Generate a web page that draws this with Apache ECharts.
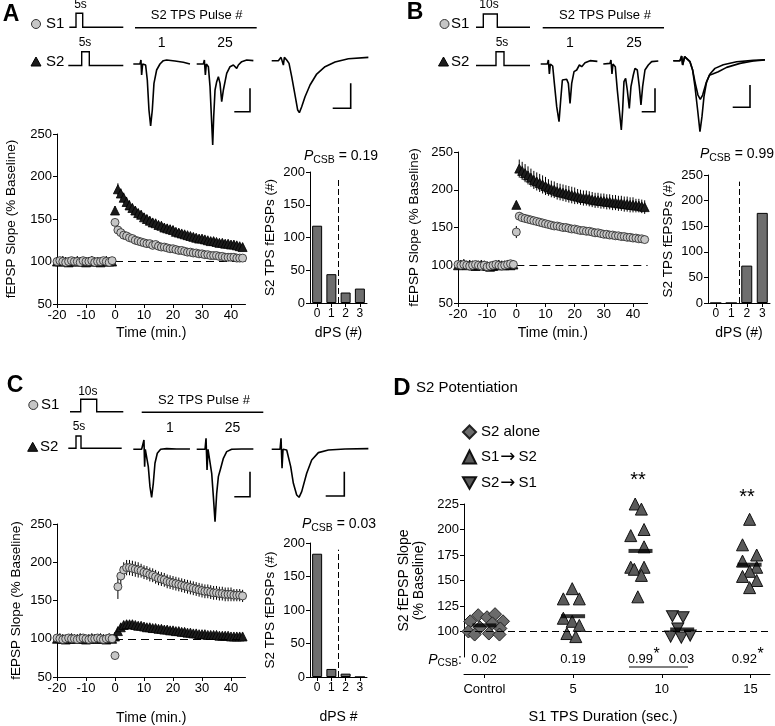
<!DOCTYPE html>
<html><head><meta charset="utf-8">
<script src="https://cdn.jsdelivr.net/npm/echarts@6/dist/echarts.min.js"></script>
<style>html,body{margin:0;padding:0;background:#fff}#c{width:775px;height:726px}</style>
</head><body><div id="c"></div>
<script>
// ---------------- DATA ----------------
const timeMin = [-20,-19,-18,-17,-16,-15,-14,-13,-12,-11,-10,-9,-8,-7,-6,-5,-4,-3,-2,-1,0,1,2,3,4,5,6,7,8,9,10,11,12,13,14,15,16,17,18,19,20,21,22,23,24,25,26,27,28,29,30,31,32,33,34,35,36,37,38,39,40,41,42,43,44];
const timeTicks = [-20,-10,0,10,20,30,40];

// Panel A (S1 5 s, S2 5 s)
const aS1 = [100,101,100,99,100,101,100,100,99,101,100,100,101,99,100,100,101,100,99,101,146,137,134,131,130,128,127,125,124,123,122,121,121,119,120,118,117,117,116,115,115,114,113,113,112,111,111,110,110,109,109,108,108,107,107,107,106,106,105,105,105,105,104,104,104];
const aS1Err = [1,1,1,1,1,1,1,1,1,1,1,1,1,1,1,1,1,1,1,1,4,3,3,3,3,3,3,3,3,3,3,3,3,3,3,3,2,2,2,2,2,2,2,2,2,2,2,2,2,2,2,2,2,2,2,2,2,2,2,2,2,2,2,2,2];
const aS2 = [100,100,101,100,99,100,100,101,100,100,99,100,101,100,100,99,100,101,100,100,160,185,180,175,170,166,163,160,157,155,152,150,148,146,145,143,142,140,139,138,137,135,134,133,132,131,130,129,128,127,127,126,125,124,124,123,122,122,121,121,120,120,119,118,117];
const aS2Err = [2,2,2,2,2,2,2,2,2,2,2,2,2,2,2,2,2,2,2,2,5,7,6,6,6,6,5,5,5,5,5,5,5,5,5,5,5,5,5,5,5,4,4,4,4,4,4,4,4,4,4,4,4,4,4,4,4,4,4,4,4,4,4,4,4];
// Panel B (S1 10 s, S2 5 s)
const bS1 = [101,100,101,100,99,100,101,100,99,100,98,99,100,101,100,99,100,101,102,101,144,165,163,162,161,160,159,158,157,156,155,154,153,152,152,151,150,150,149,148,148,147,146,146,145,145,144,143,143,142,141,141,140,140,139,139,138,138,137,137,136,136,135,135,134];
const bS1Err = [2,2,2,2,2,2,2,2,2,2,2,2,2,2,2,2,2,2,2,2,8,5,5,5,4,4,4,4,4,4,4,4,4,4,4,4,4,4,4,4,4,4,4,4,4,4,4,4,4,4,4,3,3,3,3,3,3,3,3,3,3,3,3,3,3];
const bS2 = [100,101,102,100,101,100,99,100,101,100,99,98,99,100,101,100,100,101,100,101,180,228,225,222,219,216,213,211,209,207,205,203,201,200,198,197,196,195,194,193,192,191,190,189,189,188,187,186,186,185,185,184,184,183,183,182,182,181,181,180,180,179,179,178,177];
const bS2Err = [3,3,3,3,3,3,3,3,3,3,3,3,3,3,3,3,3,3,3,3,5,12,12,12,12,12,12,12,12,12,12,11,11,11,11,11,11,11,11,11,11,10,10,10,10,10,10,10,10,10,10,10,10,10,10,10,10,10,10,10,10,9,9,9,9];
// Panel C (S1 10 s, S2 5 s, reversed order)
const cS1 = [101,100,99,100,101,100,100,99,100,101,100,99,100,100,101,100,99,100,101,100,78,168,182,190,193,193,192,191,190,189,187,186,184,183,181,179,178,177,175,174,173,172,171,170,169,168,167,166,165,164,163,162,162,161,160,160,159,159,158,158,158,157,157,157,156];
const cS1Err = [2,2,2,2,2,2,2,2,2,2,2,2,2,2,2,2,2,2,2,2,3,16,12,10,10,10,10,10,10,9,9,9,9,9,9,9,9,9,9,9,9,9,9,9,9,9,9,9,9,9,9,9,9,9,9,9,9,9,9,9,9,8,8,8,8];
const cS2 = [100,101,100,99,100,101,100,100,101,100,99,100,101,100,100,101,100,99,101,100,103,110,115,118,119,119,119,118,117,117,116,115,115,114,114,113,113,112,112,111,111,110,110,109,109,108,108,107,107,106,106,106,105,105,105,105,104,104,104,104,103,103,103,103,103];
const cS2Err = [2,2,2,2,2,2,2,2,2,2,2,2,2,2,2,2,2,2,2,2,3,4,5,5,5,5,4,4,4,4,4,4,4,4,4,4,4,4,4,4,4,3,3,3,3,3,3,3,3,3,3,3,3,3,3,3,3,3,3,3,3,3,3,3,3];

// dPS histograms
const dpsBins = [0,1,2,3];
const aBars = [118,44,16,22];
const bBars = [0,0,73,176];
const cBars = [184,12,5,0];
const pcsbA = '0.19', pcsbB = '0.99', pcsbC = '0.03';

// Example traces: [time (ms), voltage (mV)]
const traceA1 = [[0,0],[2,0],[2.3,0.12],[2.5,-0.33],[2.8,0],[3.7,-0.03],[4.2,-0.48],[4.7,-1.38],[5.2,-1.86],[5.7,-1.38],[6.2,-0.58],[7.0,-0.18],[8.0,0],[9.0,0.10],[10.0,0.12],[12.5,0.09],[15.0,0.05],[17.0,0]];
const traceA25 = [[0,0],[2,0],[2.3,0.12],[2.6,-0.33],[2.9,0],[3.5,-0.08],[4.0,-0.68],[4.5,-1.78],[4.8,-2.43],[5.1,-1.58],[5.5,-0.78],[6.0,-0.53],[6.5,-0.38],[7.0,-0.58],[7.5,-1.13],[8.0,-0.78],[9.0,-0.28],[10.0,-0.08],[11.0,-0.03],[12.0,-0.13],[12.5,-0.03],[13.5,0.07],[15.0,0.12],[17.0,0.10]];
const traceAavg = [[0,0],[2,0],[2.8,0.10],[3.2,0.14],[3.5,-0.13],[3.8,0.10],[4.5,0.02],[5.2,-0.08],[6.0,-0.48],[7.0,-1.03],[7.8,-1.48],[8.3,-1.56],[9.0,-1.38],[10.0,-1.08],[11.5,-0.73],[13.5,-0.40],[16.0,-0.18],[19.0,-0.04],[23.0,0.06],[29.0,0.10]];
const traceB1 = [[0,0],[2,0],[2.3,0.12],[2.6,-0.30],[2.9,0],[3.6,-0.06],[4.1,-0.58],[4.8,-1.28],[5.5,-1.73],[6.0,-1.08],[6.5,-0.48],[7.1,-0.53],[7.8,-0.46],[8.3,-0.58],[8.8,-1.18],[9.3,-0.58],[10.0,-0.23],[10.8,-0.18],[11.6,-0.03],[12.3,-0.08],[13.3,0.04],[14.8,0.10],[17.0,0.08]];
const traceB25 = [[0,0],[2,0.02],[2.3,0.12],[2.6,-0.30],[2.9,0],[3.6,-0.08],[4.2,-0.78],[4.8,-1.38],[5.4,-1.98],[5.8,-1.38],[6.2,-0.53],[6.7,-0.43],[7.2,-0.78],[7.8,-1.33],[8.3,-0.68],[9.0,-0.33],[9.5,-0.13],[10.2,-0.18],[10.8,-0.68],[11.3,-1.23],[11.8,-0.68],[12.5,-0.18],[13.5,-0.03],[14.5,0.07],[16.5,0.09]];
const traceBavgA = [[0,0],[2,0],[2.5,0.14],[2.8,-0.13],[3.1,-0.18],[3.4,0.12],[4.0,0.07],[5.0,-0.03],[5.8,-0.28],[6.5,-0.78],[7.3,-1.48],[8.0,-2.13],[8.6,-1.68],[9.2,-1.08],[10.0,-0.63],[10.8,-0.44],[11.8,-0.40],[13.5,-0.33],[16.0,-0.20],[20.0,-0.08],[24.0,-0.01],[27.5,0.02]];
const traceBavgB = [[0,0],[2,0],[2.5,0.14],[2.8,-0.13],[3.1,-0.18],[3.4,0.12],[4.0,0.07],[5.0,-0.03],[5.8,-0.28],[6.6,-0.68],[7.4,-1.03],[8.1,-1.16],[8.8,-1.03],[9.8,-0.68],[11.0,-0.40],[12.5,-0.23],[15.0,-0.12],[19.0,-0.03],[24.0,0.01],[27.5,0.03]];
const traceC1 = [[0,0],[2.5,0],[3.0,0],[3.2,0.28],[3.4,-0.52],[3.6,0],[4.1,-0.02],[4.5,-0.52],[5.0,-1.12],[5.5,-1.44],[6.0,-1.02],[6.5,-0.42],[7.2,-0.12],[8.2,0],[10.0,0.02],[13.0,0.01],[17.0,0.01]];
const traceC25 = [[0,0],[2.5,0],[2.8,0.33],[3.1,-0.62],[3.4,0],[4.0,-0.04],[4.5,-0.72],[5.0,-1.42],[5.5,-2.17],[6.0,-1.32],[6.5,-0.82],[7.2,-0.57],[8.0,-0.27],[9.0,-0.07],[10.5,0],[13.5,0.01],[17.0,0.01]];
const traceCavg = [[0,0],[2.5,0],[2.8,0.33],[3.1,-0.57],[3.4,0],[4.5,-0.02],[5.0,-0.07],[5.7,-0.52],[6.5,-1.02],[7.5,-1.37],[8.2,-1.44],[9.0,-1.27],[10.5,-0.72],[12.0,-0.32],[14.0,-0.10],[17.0,-0.02],[22.0,0.01],[29.0,0.02]];

// Panel D: S2 potentiation by S1 TPS duration
const durationLabels = ['Control','5','10','15'];
const dAloneX = [-0.16,-0.07,0.03,0.12,0.21,-0.18,-0.05,0.09,0.18,-0.11,0.05,0.17];
const dAloneY = [110,116,114,117,110,100,104,108,103,97,98,97];
const dS1S2X = [0.99,0.89,1.07,0.89,0.99,1.07,0.93,1.03, 1.70,1.77,1.80,1.65,1.80,1.65,1.69,1.80,1.77,1.73, 2.99,2.91,3.07,2.91,3.07,2.99,2.91,3.07,2.99];
const dS1S2Y = [142,132,132,113,110,106,98,95, 225,220,200,194,183,163,161,163,155,134, 210,185,175,169,163,159,154,150,143];
const dS2S1X = [2.12,2.24,2.18,2.10,2.22,2.32];
const dS2S1Y = [115,114,103,95,94,96];
const dMeanX = [0,1,1.76,2.23,2.99];
const dMeanY = [106,115,179,102,165.5];

// ---------------- BUILD ----------------
const FONT = '"Liberation Sans", Arial, Helvetica, sans-serif';
const grids = [], xAxes = [], yAxes = [], series = [], graphics = [];
function addGrid(rect, xa, ya){ const i = grids.length; grids.push(rect); xa.gridIndex = i; ya.gridIndex = i; xAxes.push(xa); yAxes.push(ya); return i; }
function axis(o){
  const base = {axisLine:{show:true,onZero:false,lineStyle:{color:'#000',width:1}},
    axisTick:{show:true,length:4,lineStyle:{color:'#000',width:1}},
    axisLabel:{color:'#000',fontSize:13,fontFamily:FONT,margin:5},
    splitLine:{show:false},
    nameTextStyle:{color:'#000',fontSize:14,fontFamily:FONT}};
  for (const k in o){ if (base[k] && typeof o[k]==='object' && !Array.isArray(o[k])) Object.assign(base[k], o[k]); else base[k] = o[k]; }
  return base;
}
const errRender = (p, api) => {
  const x = api.value(0), y = api.value(1), e = api.value(2) || 0;
  const a = api.coord([x, y - e]), b = api.coord([x, y + e]);
  return {type:'line', shape:{x1:a[0],y1:a[1],x2:b[0],y2:b[1]}, style:{stroke:'#000', lineWidth:1}};
};
function timeCourse(c){
  const gi = addGrid({left:c.left, top:c.top, width:c.width, height:c.height},
    axis({type:'value', min:-20, max:45, name:'Time (min.)', nameLocation:'middle', nameGap:c.xGap,
      axisLabel:{customValues:timeTicks}, axisTick:{customValues:timeTicks}}),
    axis({type:'value', min:50, max:250, interval:50, name:'fEPSP Slope (% Baseline)', nameLocation:'middle', nameGap:c.yGap,
      nameTextStyle:{fontSize:13.5}}));
  const ref = {silent:true, symbol:['none','none'], label:{show:false}, lineStyle:{type:[8,5], color:'#000', width:1},
    data:[[{coord:[0,100]},{coord:[45,100]}]]};
  series.push({type:'custom', xAxisIndex:gi, yAxisIndex:gi, renderItem:errRender, encode:{x:0,y:1}, z:2, silent:true,
    data: timeMin.map((t,i)=>[t, c.s2[i], c.s2e[i]])});
  series.push({type:'scatter', xAxisIndex:gi, yAxisIndex:gi, symbol:'triangle', symbolSize:9, z:3, silent:true,
    itemStyle:{color:'#1c1c1c', borderColor:'#000', borderWidth:0.8, opacity:1},
    data: timeMin.map((t,i)=>[t, c.s2[i]]), markLine: ref});
  series.push({type:'custom', xAxisIndex:gi, yAxisIndex:gi, renderItem:errRender, encode:{x:0,y:1}, z:4, silent:true,
    data: timeMin.map((t,i)=>[t, c.s1[i], c.s1e[i]])});
  series.push({type:'scatter', xAxisIndex:gi, yAxisIndex:gi, symbol:'circle', symbolSize:8, z:5, silent:true,
    itemStyle:{color:'#c6c6c6', borderColor:'#222', borderWidth:0.8, opacity:1},
    data: timeMin.map((t,i)=>[t, c.s1[i]])});
}
function barPanel(c){
  const gi = addGrid({left:c.left, top:c.top, width:c.width, height:c.height},
    axis({type:'value', min:-0.5, max:3.5, name:c.xName, nameLocation:'middle', nameGap:c.xGap,
      axisLabel:{customValues:dpsBins, fontSize:12}, axisTick:{customValues:dpsBins}}),
    axis({type:'value', min:0, max:c.yMax, interval:50, name:'S2 TPS fEPSPs (#)', nameLocation:'middle', nameGap:33,
      nameTextStyle:{fontSize:13.5}}));
  series.push({type:'bar', xAxisIndex:gi, yAxisIndex:gi, barWidth:c.barW, silent:true,
    itemStyle:{color:'#6e6e6e', borderColor:'#000', borderWidth:1},
    data: dpsBins.map((b,i)=>[b, c.vals[i]]),
    markLine:{silent:true, symbol:['none','none'], label:{show:false}, lineStyle:{type:[6,3], color:'#000', width:1},
      data:[[{coord:[1.5,0]},{coord:[1.5,c.dashTop]}]]}});
}
const PXT = 10/3, PXV = 100/3;
function tracePanel(left, baseline, traces){
  let maxT = 0; traces.forEach(tr => tr.forEach(p => { if (p[0] > maxT) maxT = p[0]; }));
  const gi = addGrid({left:left, top:baseline - 0.4*PXV, width:maxT*PXT, height:3.0*PXV},
    {type:'value', show:false, min:0, max:maxT}, {type:'value', show:false, min:-2.6, max:0.4});
  traces.forEach(tr => series.push({type:'line', xAxisIndex:gi, yAxisIndex:gi, data:tr, showSymbol:false, silent:true,
    lineStyle:{color:'#000', width:1.6}, clip:false}));
}

timeCourse({left:57, top:134, width:188.5, height:170, s1:aS1, s1e:aS1Err, s2:aS2, s2e:aS2Err, xGap:22, yGap:39});
barPanel({left:310, top:172, width:57, height:131, yMax:200, vals:aBars, xName:'dPS (#)', xGap:23, dashTop:190, barW:10});
timeCourse({left:458, top:152, width:189.6, height:151, s1:bS1, s1e:bS1Err, s2:bS2, s2e:bS2Err, xGap:23, yGap:37});
barPanel({left:708, top:175, width:62, height:128, yMax:250, vals:bBars, xName:'dPS (#)', xGap:23, dashTop:237, barW:11});
timeCourse({left:57, top:524, width:188.5, height:153, s1:cS1, s1e:cS1Err, s2:cS2, s2e:cS2Err, xGap:34, yGap:34});
barPanel({left:310, top:543, width:57, height:134, yMax:200, vals:cBars, xName:'dPS #', xGap:33, dashTop:190, barW:10});

tracePanel(133.3, 64, [traceA1]);
tracePanel(196.7, 64, [traceA25]);
tracePanel(271.7, 60.7, [traceAavg]);
tracePanel(540.7, 64, [traceB1]);
tracePanel(603.3, 64, [traceB25]);
tracePanel(673.3, 60.7, [traceBavgA, traceBavgB]);
tracePanel(133.3, 449.3, [traceC1]);
tracePanel(196.7, 449.3, [traceC25]);
tracePanel(271.7, 449.3, [traceCavg]);

// Panel D
const dTicks = [0,1,2,3];
const dYTicks = [100,125,150,175,200,225];
const gD = addGrid({left:464, top:504, width:306, height:153},
  axis({type:'value', min:-0.23, max:3.22, offset:17,
    axisLabel:{customValues:dTicks, formatter:v => durationLabels[Math.round(v)], margin:9},
    axisTick:{customValues:dTicks}}),
  axis({type:'value', min:75, max:225, name:'S2 fEPSP Slope\n(% Baseline)', nameLocation:'middle', nameGap:37,
    nameTextStyle:{fontSize:14, lineHeight:15},
    axisLabel:{customValues:dYTicks}, axisTick:{customValues:dYTicks}}));
series.push({type:'scatter', name:'S2 alone', xAxisIndex:gD, yAxisIndex:gD, symbol:'diamond', symbolSize:13, z:3,
  itemStyle:{color:'#6b6b6b', borderColor:'#222', borderWidth:1, opacity:1},
  data: dAloneX.map((x,i)=>[x, dAloneY[i]]),
  markLine:{silent:true, symbol:['none','none'], label:{show:false}, lineStyle:{type:[7,4], color:'#000', width:1}, data:[{yAxis:100}]}});
series.push({type:'scatter', name:'S1 → S2', xAxisIndex:gD, yAxisIndex:gD, symbol:'triangle', symbolSize:12, z:3,
  itemStyle:{color:'#5a5a5a', borderColor:'#111', borderWidth:1, opacity:1},
  data: dS1S2X.map((x,i)=>[x, dS1S2Y[i]])});
series.push({type:'scatter', name:'S2 → S1', xAxisIndex:gD, yAxisIndex:gD, symbol:'path://M0,0L10,0L5,8.66Z', symbolSize:[12,11], z:3,
  itemStyle:{color:'#5a5a5a', borderColor:'#111', borderWidth:1, opacity:1},
  data: dS2S1X.map((x,i)=>[x, dS2S1Y[i]])});
series.push({type:'scatter', name:'mean', xAxisIndex:gD, yAxisIndex:gD, symbol:'rect', symbolSize:[24,4], z:6,
  itemStyle:{color:'#000'}, data: dMeanX.map((x,i)=>[x, dMeanY[i]])});

// ---------------- ANNOTATIONS ----------------
function txt(x, y, text, o){
  o = o || {};
  return {type:'text', x:x, y:y, silent:true, z:10, rotation:o.rot||0,
    style:{text:text, fill:'#000', fontSize:o.size||14, fontFamily:FONT, fontWeight:o.weight||'normal', fontStyle:o.style||'normal',
      align:o.align||'center', verticalAlign:o.va||'middle', textAlign:o.align||'center', textVerticalAlign:o.va||'middle', rich:o.rich}};
}
function poly(pts, w){ return {type:'polyline', silent:true, z:10, shape:{points:pts}, style:{stroke:'#000', lineWidth:w||1.4, fill:null}}; }
function circ(cx, cy){ return {type:'circle', silent:true, z:10, shape:{cx:cx, cy:cy, r:4.5}, style:{fill:'#c6c6c6', stroke:'#333', lineWidth:1}}; }
function tri(cx, cy){ return {type:'polygon', silent:true, z:10, shape:{points:[[cx-5,cy+4],[cx+5,cy+4],[cx,cy-5]]}, style:{fill:'#1c1c1c', stroke:'#000'}}; }
const richP = {i:{fontStyle:'italic', fontSize:14, fontFamily:FONT, fill:'#000', color:'#000'},
  s:{fontSize:10.5, fontFamily:FONT, padding:[8,0,0,0], fill:'#000', color:'#000'},
  n:{fontSize:14, fontFamily:FONT, fill:'#000', color:'#000'}};
function pcsb(cx, cy, val){ return txt(cx, cy, '{i|P}{s|CSB}{n| = ' + val + '}', {rich:richP}); }

graphics.push(
  txt(11, 15, 'A', {size:23, weight:'bold'}), txt(415, 13, 'B', {size:23, weight:'bold'}), txt(15, 386, 'C', {size:23, weight:'bold'}),
  txt(402, 388, 'D', {size:24, weight:'bold'}), txt(416, 388, 'S2 Potentiation', {size:15, align:'left'}),
  // A protocol
  circ(36, 24), txt(46, 24, 'S1', {size:15, align:'left'}), tri(36, 62), txt(46, 62, 'S2', {size:15, align:'left'}),
  poly([[69.3,27.3],[76,27.3],[76,13.3],[82.7,13.3],[82.7,27.3],[123.3,27.3]]), txt(80.5, 5, '5s', {size:12}),
  poly([[68.3,65.5],[81.7,65.5],[81.7,51.7],[89.3,51.7],[89.3,65.5],[123.3,65.5]]), txt(85, 42.5, '5s', {size:12}),
  txt(196.7, 15, 'S2 TPS Pulse #', {size:13}), poly([[135,27.7],[256.7,27.7]]), txt(161.7, 43.3, '1', {size:14}), txt(225, 43.3, '25', {size:14}),
  poly([[234.3,111.7],[250,111.7],[250,88.3]], 1.6), poly([[332.7,108.3],[350.7,108.3],[350.7,83.3]], 1.6),
  pcsb(341, 156, pcsbA),
  // B protocol
  circ(444.5, 24), txt(451, 24, 'S1', {size:15, align:'left'}), tri(443.5, 62), txt(451, 62, 'S2', {size:15, align:'left'}),
  poly([[476,27.3],[483.3,27.3],[483.3,14],[497.3,14],[497.3,27.3],[530,27.3]]), txt(489, 5, '10s', {size:12}),
  poly([[476,65.5],[496,65.5],[496,51.7],[504,51.7],[504,65.5],[530,65.5]]), txt(502, 43, '5s', {size:12}),
  txt(605, 15, 'S2 TPS Pulse #', {size:13}), poly([[542.7,27.7],[664,27.7]]), txt(570, 43.3, '1', {size:14}), txt(634, 43.3, '25', {size:14}),
  poly([[641.7,111.7],[655,111.7],[655,88.3]], 1.6), poly([[732.7,107.3],[750,107.3],[750,85]], 1.6),
  pcsb(737, 154, pcsbB),
  // C protocol
  circ(33.3, 405), txt(41, 405, 'S1', {size:15, align:'left'}), tri(32.7, 447.3), txt(40, 447.3, 'S2', {size:15, align:'left'}),
  poly([[70,411.7],[80.7,411.7],[80.7,399.3],[96.7,399.3],[96.7,411.7],[123.3,411.7]]), txt(87.8, 391.7, '10s', {size:12}),
  poly([[68.3,448.3],[76,448.3],[76,436],[81,436],[81,448.3],[121.7,448.3]]), txt(79, 427, '5s', {size:12}),
  txt(204, 400, 'S2 TPS Pulse #', {size:13}), poly([[141.7,412.3],[263.3,412.3]]), txt(170, 428.3, '1', {size:14}), txt(232.5, 428.3, '25', {size:14}),
  poly([[234.3,496.7],[250,496.7],[250,471.7]], 1.6), poly([[325.7,496],[344.3,496],[344.3,471.7]], 1.6),
  pcsb(339, 524, pcsbC),
  // D annotations
  txt(638, 480, '**', {size:20}), txt(747, 497, '**', {size:20}),
  txt(462, 660, '{i|P}{s|CSB}{n|:}', {align:'right', rich:{i:{fontStyle:'italic', fontSize:14, fontFamily:FONT, fill:'#000'}, s:{fontSize:10, fontFamily:FONT, padding:[7,0,0,0], fill:'#000'}, n:{fontSize:14, fontFamily:FONT, fill:'#000'}}}),
  txt(484, 659, '0.02', {size:13}), txt(573, 659, '0.19', {size:13}),
  txt(653, 659, '0.99', {size:13, align:'right'}), txt(656.5, 655, '*', {size:16}),
  txt(681.5, 659, '0.03', {size:13}),
  txt(757, 659, '0.92', {size:13, align:'right'}), txt(760.5, 655, '*', {size:16}),
  poly([[629,667],[688,667]], 1),
  txt(603, 717, 'S1 TPS Duration (sec.)', {size:14.5})
);

const option = {
  animation:false, backgroundColor:'#fff',
  textStyle:{fontFamily:FONT, color:'#000'},
  grid:grids, xAxis:xAxes, yAxis:yAxes, series:series, graphic:graphics,
  legend:{data:['S2 alone','S1 → S2','S2 → S1'], orient:'vertical', left:462, top:424, padding:0, itemGap:8, itemWidth:13, itemHeight:13,
    selectedMode:false,
    formatter: n => n.replace(' → ', '{r|→}'),
    textStyle:{fontSize:15, lineHeight:16, fontFamily:FONT, color:'#000',
      rich:{r:{fontFamily:'"DejaVu Sans", sans-serif', fontSize:18, lineHeight:16, color:'#000', padding:[0,3,0,1]}}}}
};
const chart = echarts.init(document.getElementById('c'), null, {renderer:'canvas', width:775, height:726});
chart.setOption(option);
</script></body></html>
